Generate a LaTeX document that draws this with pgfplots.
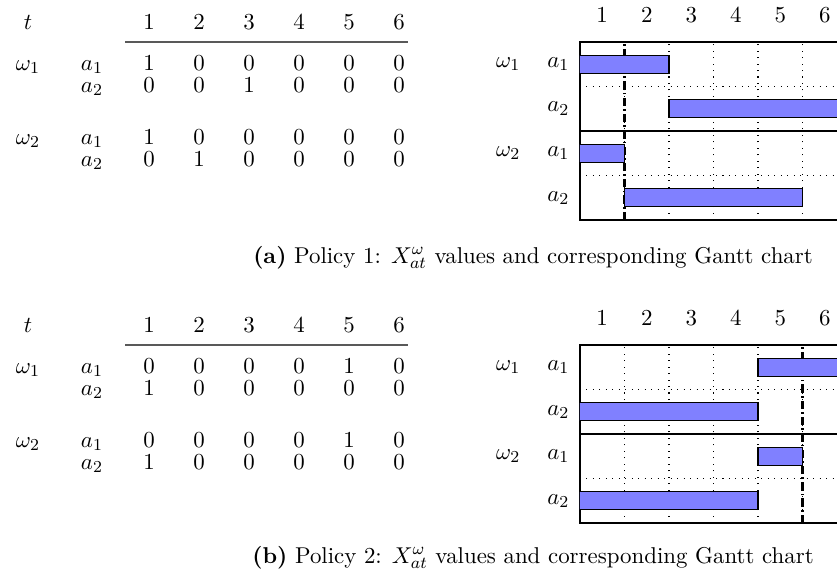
\documentclass[11pt,border=0pt]{standalone}
\usepackage{pgfplots}
\pgfplotsset{compat=1.18}
\pgfplotsset{gantt/.style={
  scale only axis, width=127.8pt, height=85.2pt,
  xmin=0.5, xmax=6.5, ymin=0, ymax=4,
  xtick={1,2,3,4,5,6}, xticklabel pos=upper,
  ytick={0.5,1.5,2.5,3.5},
  yticklabels={$a_2$,$\omega_2\hspace{13pt}a_1$,$a_2$,$\omega_1\hspace{13pt}a_1$},
  minor xtick={1.5,2.5,3.5,4.5,5.5}, minor ytick={1,3},
  xminorgrids, yminorgrids,
  minor grid style={black, line width=0.5pt, dash pattern=on 0.5pt off 2.6pt},
  major tick length=0pt, minor tick length=0pt,
  xbar stacked, bar width=8.5pt,
  x tick label style={yshift=5.5pt},
  y tick label style={xshift=-1.2pt},
  axis line style={line width=0.6pt},
}}
\newcommand\trow[2]{\foreach \v [count=\k] in {#2} {\node[anchor=base] at ({99+50*\k},#1) {$\v$};}}
\begin{document}
\begin{tikzpicture}
\useasboundingbox (0,0) rectangle (400.5pt,274.2pt);
\clip (0,0) rectangle (400.5pt,274.2pt);
\begin{scope}[x=0.4785pt, y=-0.4785pt, shift={(0pt,274.2pt)}]
  % ---- Policy 1 table
  \node[anchor=base] at (28,29) {$t$};
  \trow{29}{1,2,3,4,5,6}
  \draw[black!65, line width=0.5pt] (125,42) -- (408,42);
  \node[anchor=base] at (28,70) {$\omega_1$};
  \node[anchor=base] at (92,70) {$a_1$};
  \trow{70}{1,0,0,0,0,0}
  \node[anchor=base] at (92,92) {$a_2$};
  \trow{92}{0,0,1,0,0,0}
  \node[anchor=base] at (28,144) {$\omega_2$};
  \node[anchor=base] at (92,144) {$a_1$};
  \trow{144}{1,0,0,0,0,0}
  \node[anchor=base] at (92,166) {$a_2$};
  \trow{166}{0,1,0,0,0,0}
  \node[anchor=base] at (533,263) {\textbf{(a)} Policy 1: $X^{\omega}_{at}$ values and corresponding Gantt chart};
  % ---- Policy 2 table
  \node[anchor=base] at (28,332) {$t$};
  \trow{332}{1,2,3,4,5,6}
  \draw[black!65, line width=0.5pt] (125,345) -- (408,345);
  \node[anchor=base] at (28,373) {$\omega_1$};
  \node[anchor=base] at (92,373) {$a_1$};
  \trow{373}{0,0,0,0,1,0}
  \node[anchor=base] at (92,395) {$a_2$};
  \trow{395}{1,0,0,0,0,0}
  \node[anchor=base] at (28,447) {$\omega_2$};
  \node[anchor=base] at (92,447) {$a_1$};
  \trow{447}{0,0,0,0,1,0}
  \node[anchor=base] at (92,469) {$a_2$};
  \trow{469}{1,0,0,0,0,0}
  \node[anchor=base] at (533,563) {\textbf{(b)} Policy 2: $X^{\omega}_{at}$ values and corresponding Gantt chart};
\end{scope}
% ---- Policy 1 Gantt
\begin{axis}[gantt, at={(277.5pt,168.9pt)}, anchor=south west]
  \addplot[draw=none, fill=none] coordinates {(0.5,3.5) (2.5,2.5) (0.5,1.5) (1.5,0.5)};
  \addplot[fill=blue!50, draw=black, line width=0.5pt] coordinates {(2,3.5) (4,2.5) (1,1.5) (4,0.5)};
  \draw[line width=1.2pt] (rel axis cs:0,0.5) -- (rel axis cs:1,0.5);
  \draw[line width=1.3pt, dash pattern=on 4pt off 1.5pt on 0.8pt off 1.5pt] (axis cs:1.5,0) -- (axis cs:1.5,4);
\end{axis}
% ---- Policy 2 Gantt
\begin{axis}[gantt, at={(277.5pt,23.9pt)}, anchor=south west]
  \addplot[draw=none, fill=none] coordinates {(4.5,3.5) (0.5,2.5) (4.5,1.5) (0.5,0.5)};
  \addplot[fill=blue!50, draw=black, line width=0.5pt] coordinates {(2,3.5) (4,2.5) (1,1.5) (4,0.5)};
  \draw[line width=1.2pt] (rel axis cs:0,0.5) -- (rel axis cs:1,0.5);
  \draw[line width=1.3pt, dash pattern=on 4pt off 1.5pt on 0.8pt off 1.5pt] (axis cs:5.5,0) -- (axis cs:5.5,4);
\end{axis}
\end{tikzpicture}
\end{document}
